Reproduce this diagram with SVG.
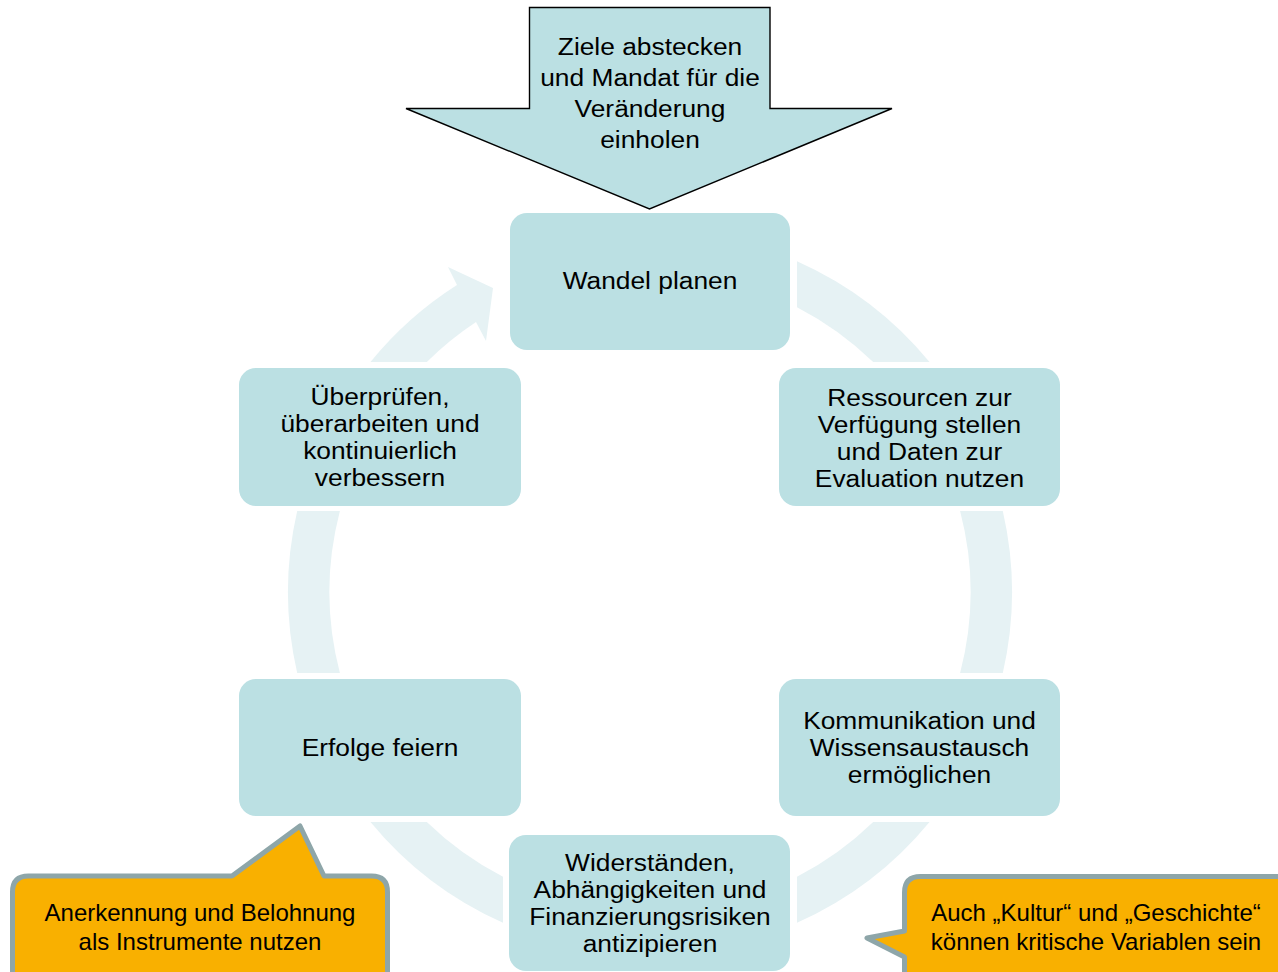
<svg xmlns="http://www.w3.org/2000/svg" width="1278" height="972" viewBox="0 0 1278 972">
<style>
.box{fill:#BBE0E3;}
.ring{fill:#E6F2F4;}
.t{font-family:"Liberation Sans",Arial,sans-serif;font-size:23px;fill:#000;text-anchor:middle;}
.c{font-family:"Liberation Sans",Arial,sans-serif;font-size:24px;fill:#000;text-anchor:middle;}
.call{fill:#F9B000;stroke:#8EA6A9;stroke-width:5;stroke-linejoin:round;}
</style>
<rect width="1278" height="972" fill="#FFFFFF"/>
<g id="connectors">
<path class="ring" d="M797,261.2 A362,362 0 0 1 929.5,362 L873.2,362 A320.5,320.5 0 0 0 797,307.2 Z"/>
<path class="ring" d="M1002.8,511 A362,362 0 0 1 1002.8,673 L960.1,673 A320.5,320.5 0 0 0 960.1,511 Z"/>
<path class="ring" d="M929.5,822 A362,362 0 0 1 797,922.8 L797,876.8 A320.5,320.5 0 0 0 873.2,822 Z"/>
<path class="ring" d="M503,922.8 A362,362 0 0 1 370.5,822 L426.8,822 A320.5,320.5 0 0 0 503,876.8 Z"/>
<path class="ring" d="M297.2,673 A362,362 0 0 1 297.2,511 L339.9,511 A320.5,320.5 0 0 0 339.9,673 Z"/>
<path class="ring" d="M370.5,362 A362,362 0 0 1 457,285 L448,267 L493,288 L486,341 L476,322 A320.5,320.5 0 0 0 426.8,362 Z"/>
</g>
<g id="goal-arrow">
<path d="M529.5,7.5 L770,7.5 L770,108.5 L892,108.5 L649.5,209 L406,108.5 L529.5,108.5 Z" fill="#BBE0E3" stroke="#000" stroke-width="1.4" stroke-linejoin="miter"/>
<g transform="matrix(1.145,0,0,1,650,0)">
<text class="t" x="0" y="55">Ziele abstecken</text>
<text class="t" x="0" y="86">und Mandat für die</text>
<text class="t" x="0" y="117">Veränderung</text>
<text class="t" x="0" y="148">einholen</text>
</g>
</g>
<g id="node-plan">
<rect class="box" x="510" y="213" width="280" height="137" rx="17"/>
<g transform="matrix(1.145,0,0,1,650,0)"><text class="t" x="0" y="289.5">Wandel planen</text></g>
</g>
<g id="node-resources">
<rect class="box" x="779" y="368" width="281" height="138" rx="17"/>
<g transform="matrix(1.145,0,0,1,919.5,0)">
<text class="t" x="0" y="406">Ressourcen zur</text>
<text class="t" x="0" y="433">Verfügung stellen</text>
<text class="t" x="0" y="460">und Daten zur</text>
<text class="t" x="0" y="487">Evaluation nutzen</text>
</g>
</g>
<g id="node-communication">
<rect class="box" x="779" y="679" width="281" height="137" rx="17"/>
<g transform="matrix(1.145,0,0,1,919.5,0)">
<text class="t" x="0" y="729">Kommunikation und</text>
<text class="t" x="0" y="756">Wissensaustausch</text>
<text class="t" x="0" y="783">ermöglichen</text>
</g>
</g>
<g id="node-risks">
<rect class="box" x="509" y="835" width="281" height="136" rx="17"/>
<g transform="matrix(1.145,0,0,1,650,0)">
<text class="t" x="0" y="871">Widerständen,</text>
<text class="t" x="0" y="898">Abhängigkeiten und</text>
<text class="t" x="0" y="925">Finanzierungsrisiken</text>
<text class="t" x="0" y="952">antizipieren</text>
</g>
</g>
<g id="node-celebrate">
<rect class="box" x="239" y="679" width="282" height="137" rx="17"/>
<g transform="matrix(1.145,0,0,1,380,0)"><text class="t" x="0" y="756">Erfolge feiern</text></g>
</g>
<g id="node-review">
<rect class="box" x="239" y="368" width="282" height="138" rx="17"/>
<g transform="matrix(1.145,0,0,1,380,0)">
<text class="t" x="0" y="405">Überprüfen,</text>
<text class="t" x="0" y="432">überarbeiten und</text>
<text class="t" x="0" y="459">kontinuierlich</text>
<text class="t" x="0" y="486">verbessern</text>
</g>
</g>
<g id="callout-left">
<path class="call" d="M28.5,876 L232,876 L300,826 L324,876 L371.5,876 Q387.5,876 387.5,892 L387.5,1000 L12.5,1000 L12.5,892 Q12.5,876 28.5,876 Z"/>
<text class="c" x="200" y="921">Anerkennung und Belohnung</text>
<text class="c" x="200" y="950">als Instrumente nutzen</text>
</g>
<g id="callout-right">
<path class="call" d="M920.5,876.5 L1300,876.5 L1300,1000 L904.5,1000 L904.5,957 L867,938 L904.5,931 L904.5,892.5 Q904.5,876.5 920.5,876.5 Z"/>
<text class="c" x="1096" y="921">Auch „Kultur“ und „Geschichte“</text>
<text class="c" x="1096" y="950">können kritische Variablen sein</text>
</g>
</svg>
